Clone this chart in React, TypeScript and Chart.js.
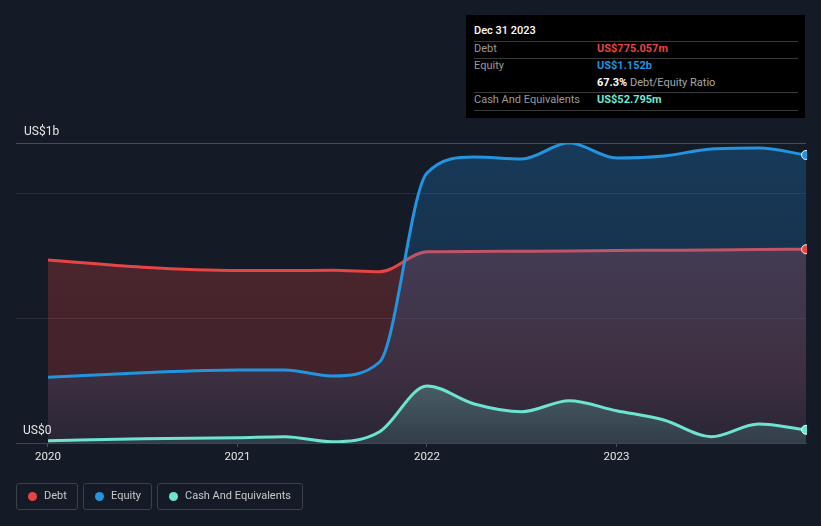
import React, { useEffect, useRef } from "react";
import { Chart, registerables } from "chart.js";
Chart.register(...registerables);

const BG = "#151b26";
const FONT = "Roboto, 'Noto Sans', sans-serif";

// time in fractional years (quarter ends)
const periods = [2020.0, 2020.5, 2021.0, 2021.25, 2021.5, 2021.75, 2022.0, 2022.25, 2022.5, 2022.75, 2023.0, 2023.25, 2023.5, 2023.75, 2024.0];
// values in US$ billions
const debtValues = [0.732, 0.703, 0.69, 0.69, 0.691, 0.685, 0.765, 0.766, 0.767, 0.768, 0.77, 0.771, 0.772, 0.774, 0.775057];
const equityValues = [0.263, 0.281, 0.292, 0.292, 0.268, 0.324, 1.08, 1.144, 1.136, 1.201, 1.14, 1.148, 1.176, 1.18, 1.152];
const cashValues = [0.009, 0.017, 0.021, 0.025, 0.005, 0.045, 0.228, 0.156, 0.125, 0.169, 0.129, 0.092, 0.025, 0.076, 0.052795];
const xTickYears = [2020, 2021, 2022, 2023];
const yGridValues = [0, 0.5, 1, 1.2];
const yLabels = ["US$0", "US$1b"];

const DEBT_COLOR = "#e64545";
const EQUITY_COLOR = "#2394df";
const CASH_COLOR = "#6ee3d0";

function gradient(rgb: string, stops: [number, number][]) {
  return (ctx: any) => {
    const chart = ctx.chart;
    const ca = chart.chartArea;
    if (!ca) return "transparent";
    const g = chart.ctx.createLinearGradient(0, ca.top, 0, ca.bottom);
    stops.forEach(([p, a]) => g.addColorStop(p, `rgba(${rgb},${a})`));
    return g;
  };
}

function toPoints(vals: number[]) {
  return periods.map((t, i) => ({ x: t, y: vals[i] }));
}

const yLabelPlugin = {
  id: "yLabelPlugin",
  afterDraw(chart: any) {
    const { ctx, chartArea, scales } = chart;
    const y = scales.y;
    ctx.save();
    ctx.font = `12px ${FONT}`;
    ctx.fillStyle = "#e6e6e6";
    ctx.textBaseline = "middle";
    ctx.textAlign = "left";
    ctx.fillText(yLabels[1], chartArea.left + 8, y.top - 11);
    ctx.fillText(yLabels[0], chartArea.left + 7, y.getPixelForValue(0) - 12);
    ctx.restore();
  },
};

// end-of-series markers drawn on top of all fills
const endDotPlugin = {
  id: "endDotPlugin",
  afterDatasetsDraw(chart: any) {
    const { ctx, chartArea } = chart;
    ctx.save();
    ctx.beginPath();
    ctx.rect(chartArea.left, chartArea.top - 6, chartArea.right - chartArea.left + 1, chartArea.bottom - chartArea.top + 12);
    ctx.clip();
    chart.data.datasets.forEach((ds: any, i: number) => {
      const meta = chart.getDatasetMeta(i);
      const el = meta.data[meta.data.length - 1];
      if (!el) return;
      ctx.beginPath();
      ctx.arc(el.x, el.y, 4.5, 0, Math.PI * 2);
      ctx.fillStyle = ds.borderColor;
      ctx.fill();
      ctx.lineWidth = 1;
      ctx.strokeStyle = "rgba(255,255,255,0.9)";
      ctx.stroke();
    });
    ctx.restore();
  },
};

export default function App() {
  const ref = useRef<HTMLCanvasElement>(null);
  useEffect(() => {
    document.body.style.margin = "0";
    document.body.style.background = BG;
    const common = {
      borderWidth: 3,
      fill: "origin",
      cubicInterpolationMode: "monotone" as const,
      pointRadius: 0,
      pointHoverRadius: 0,
    };
    const chart = new Chart(ref.current!, {
      type: "line",
      data: {
        datasets: [
          {
            ...common,
            label: "Debt",
            data: toPoints(debtValues),
            borderColor: DEBT_COLOR,
            backgroundColor: gradient("230,66,66", [[0, 0.3], [0.42, 0.255], [0.757, 0.216], [1, 0.1]]),
            order: 3,
          },
          {
            ...common,
            label: "Equity",
            data: toPoints(equityValues),
            borderColor: EQUITY_COLOR,
            backgroundColor: gradient("33,150,243", [[0, 0.26], [0.4, 0.19], [1, 0.06]]),
            order: 2,
          },
          {
            ...common,
            label: "Cash And Equivalents",
            data: toPoints(cashValues),
            borderColor: CASH_COLOR,
            backgroundColor: gradient("110,231,214", [[0, 0.3], [0.8, 0.26], [1, 0.12]]),
            order: 1,
          },
        ],
      },
      options: {
        responsive: false,
        animation: false,
        layout: { padding: { left: 16, right: 15, top: 143, bottom: 53 } },
        plugins: { legend: { display: false }, tooltip: { enabled: false } },
        scales: {
          x: {
            type: "linear",
            min: 2020 - 32 / 189.6,
            max: 2024,
            afterBuildTicks: (s: any) => {
              s.ticks = xTickYears.map((v) => ({ value: v }));
            },
            afterFit: (s: any) => {
              s.height = 30;
            },
            ticks: {
              autoSkip: false,
              maxRotation: 0,
              padding: 3,
              color: "#e6e6e6",
              font: { family: FONT, size: 11.5 },
              callback: (v: any) => String(v),
            },
            grid: { drawOnChartArea: false, drawTicks: true, tickLength: 4, color: "#4a505a" },
            border: { display: true, color: "#3f4550", width: 1 },
          },
          y: {
            type: "linear",
            min: 0,
            max: 1.2,
            afterBuildTicks: (s: any) => {
              s.ticks = yGridValues.map((v) => ({ value: v }));
            },
            afterFit: (s: any) => {
              s.width = 0;
            },
            ticks: { display: false },
            grid: {
              drawTicks: false,
              color: (c: any) => {
                const v = c.tick && c.tick.value;
                if (v === 0) return "rgba(0,0,0,0)";
                if (v === 1.2) return "#474c55";
                return "rgba(255,255,255,0.08)";
              },
            },
            border: { display: false },
          },
        },
      },
      plugins: [yLabelPlugin, endDotPlugin],
    } as any);
    return () => chart.destroy();
  }, []);

  const sep = (top: number) => (
    <div style={{ position: "absolute", left: 8, width: 324, top, height: 1, background: "#3a3a3a" }} />
  );
  const row = (top: number, label: string, value: React.ReactNode) => (
    <>
      <div style={{ position: "absolute", left: 8, top: top - 8, height: 16, lineHeight: "16px", color: "#9a9a9a" }}>{label}</div>
      <div style={{ position: "absolute", left: 131, top: top - 8, height: 16, lineHeight: "16px", whiteSpace: "nowrap" }}>{value}</div>
    </>
  );
  const legendItem = (left: number, width: number, color: string, text: string) => (
    <div
      style={{
        position: "absolute",
        left,
        top: 483,
        width,
        height: 27,
        boxSizing: "border-box",
        border: "1px solid #3b414b",
        borderRadius: 3,
      }}
    >
      <div style={{ position: "absolute", left: 11, top: 8, width: 9, height: 9, borderRadius: "50%", background: color }} />
      <div style={{ position: "absolute", left: 27, top: 4, lineHeight: "16px", color: "#c8c8c8", whiteSpace: "nowrap" }}>{text}</div>
    </div>
  );

  return (
    <div style={{ position: "relative", width: 821, height: 526, background: BG, fontFamily: FONT, fontSize: 11, overflow: "hidden" }}>
      <canvas ref={ref} width={821} height={526} style={{ position: "absolute", left: 0, top: 0 }} />
      <div style={{ position: "absolute", left: 466, top: 15, width: 339, height: 103, background: "#000" }}>
        <div style={{ position: "absolute", left: 8, top: 8, lineHeight: "16px", color: "#fff", fontWeight: 500 }}>Dec 31 2023</div>
        {sep(26)}
        {row(34, "Debt", <span style={{ color: DEBT_COLOR, fontWeight: 700 }}>US$775.057m</span>)}
        {sep(43)}
        {row(51, "Equity", <span style={{ color: EQUITY_COLOR, fontWeight: 700 }}>US$1.152b</span>)}
        {row(
          68,
          "",
          <>
            <span style={{ color: "#fff", fontWeight: 700 }}>67.3%</span>
            <span style={{ color: "#a8a8a8" }}> Debt/Equity Ratio</span>
          </>
        )}
        {sep(77)}
        {row(85, "Cash And Equivalents", <span style={{ color: "#71e7d6", fontWeight: 700 }}>US$52.795m</span>)}
        {sep(95)}
      </div>
      {legendItem(16, 62, DEBT_COLOR, "Debt")}
      {legendItem(83, 69, EQUITY_COLOR, "Equity")}
      {legendItem(157, 146, CASH_COLOR, "Cash And Equivalents")}
    </div>
  );
}
